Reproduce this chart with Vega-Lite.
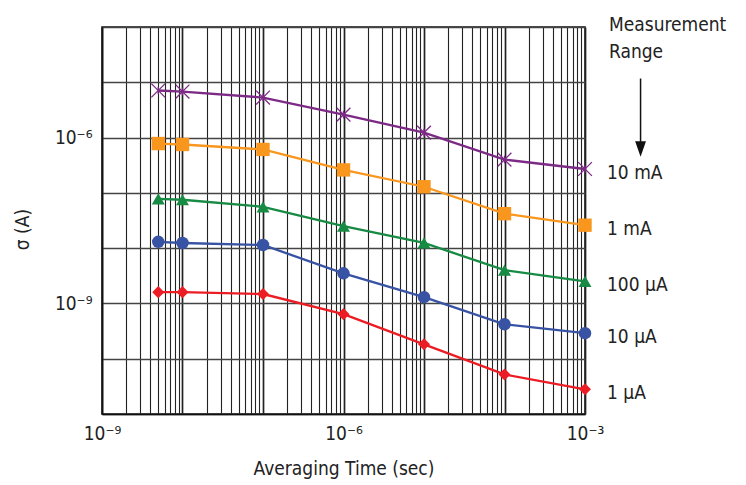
{
  "$schema": "https://vega.github.io/schema/vega-lite/v6.json",
  "width": 483,
  "height": 387,
  "autosize": {"type": "none"},
  "padding": {"left": 102, "top": 27, "right": 161, "bottom": 71},
  "background": "white",
  "title": {
    "text": ["Measurement", "Range"],
    "orient": "top",
    "anchor": "end",
    "frame": "group",
    "align": "left",
    "baseline": "middle",
    "dx": 24,
    "dy": 65,
    "offset": 12,
    "fontSize": 19,
    "fontWeight": "normal",
    "lineHeight": 27,
    "color": "#222"
  },
  "config": {
    "font": "Liberation Sans Narrow, DejaVu Sans Condensed, Liberation Sans",
    "view": {"stroke": "#111", "strokeWidth": 1.5},
    "axis": {
      "labelFontSize": 19,
      "titleFontSize": 19,
      "titleFontWeight": "normal",
      "labelColor": "#222",
      "titleColor": "#222",
      "labelOverlap": false,
      "labelBound": false,
      "labelFlush": false,
      "tickSize": 0,
      "domainColor": "#111",
      "domainWidth": 1.5
    }
  },
  "datasets": {
    "series": [
      {"range": "10 mA", "t": 5e-9, "sigma": 7.1e-6},
      {"range": "10 mA", "t": 1e-8, "sigma": 6.8e-6},
      {"range": "10 mA", "t": 1e-7, "sigma": 5.3e-6},
      {"range": "10 mA", "t": 1e-6, "sigma": 2.6e-6},
      {"range": "10 mA", "t": 1e-5, "sigma": 1.23e-6},
      {"range": "10 mA", "t": 1e-4, "sigma": 4.0e-7},
      {"range": "10 mA", "t": 1e-3, "sigma": 2.7e-7},
      {"range": "1 mA", "t": 5e-9, "sigma": 7.8e-7},
      {"range": "1 mA", "t": 1e-8, "sigma": 7.5e-7},
      {"range": "1 mA", "t": 1e-7, "sigma": 6.1e-7},
      {"range": "1 mA", "t": 1e-6, "sigma": 2.6e-7},
      {"range": "1 mA", "t": 1e-5, "sigma": 1.29e-7},
      {"range": "1 mA", "t": 1e-4, "sigma": 4.2e-8},
      {"range": "1 mA", "t": 1e-3, "sigma": 2.6e-8},
      {"range": "100 µA", "t": 5e-9, "sigma": 7.8e-8},
      {"range": "100 µA", "t": 1e-8, "sigma": 7.5e-8},
      {"range": "100 µA", "t": 1e-7, "sigma": 5.6e-8},
      {"range": "100 µA", "t": 1e-6, "sigma": 2.5e-8},
      {"range": "100 µA", "t": 1e-5, "sigma": 1.24e-8},
      {"range": "100 µA", "t": 1e-4, "sigma": 4.0e-9},
      {"range": "100 µA", "t": 1e-3, "sigma": 2.5e-9},
      {"range": "10 µA", "t": 5e-9, "sigma": 1.30e-8},
      {"range": "10 µA", "t": 1e-8, "sigma": 1.24e-8},
      {"range": "10 µA", "t": 1e-7, "sigma": 1.14e-8},
      {"range": "10 µA", "t": 1e-6, "sigma": 3.5e-9},
      {"range": "10 µA", "t": 1e-5, "sigma": 1.3e-9},
      {"range": "10 µA", "t": 1e-4, "sigma": 4.2e-10},
      {"range": "10 µA", "t": 1e-3, "sigma": 2.9e-10},
      {"range": "1 µA", "t": 5e-9, "sigma": 1.6e-9},
      {"range": "1 µA", "t": 1e-8, "sigma": 1.6e-9},
      {"range": "1 µA", "t": 1e-7, "sigma": 1.48e-9},
      {"range": "1 µA", "t": 1e-6, "sigma": 6.4e-10},
      {"range": "1 µA", "t": 1e-5, "sigma": 1.82e-10},
      {"range": "1 µA", "t": 1e-4, "sigma": 5.2e-11},
      {"range": "1 µA", "t": 1e-3, "sigma": 2.8e-11}
    ],
    "arrow": [
      {"t": 4.9e-3, "from": 1.17e-5, "to": 8.0e-7, "head": 6.2e-7}
    ]
  },
  "encoding": {
    "x": {
      "field": "t",
      "type": "quantitative",
      "scale": {"type": "log", "domain": [1e-9, 1e-3], "nice": false},
      "axis": {
        "title": "Averaging Time (sec)",
        "titlePadding": 16,
        "labelPadding": 10,
        "grid": true,
        "gridColor": "#222",
        "gridWidth": {"condition": {"test": "abs(log(datum.value)/LN10 - round(log(datum.value)/LN10)) < 0.01", "value": 1.7}, "value": 1.1},
        "values": [1e-9, 2e-9, 3e-9, 4e-9, 5e-9, 6e-9, 7e-9, 8e-9, 9e-9,
                   1e-8, 2e-8, 3e-8, 4e-8, 5e-8, 6e-8, 7e-8, 8e-8, 9e-8,
                   1e-7, 2e-7, 3e-7, 4e-7, 5e-7, 6e-7, 7e-7, 8e-7, 9e-7,
                   1e-6, 2e-6, 3e-6, 4e-6, 5e-6, 6e-6, 7e-6, 8e-6, 9e-6,
                   1e-5, 2e-5, 3e-5, 4e-5, 5e-5, 6e-5, 7e-5, 8e-5, 9e-5,
                   1e-4, 2e-4, 3e-4, 4e-4, 5e-4, 6e-4, 7e-4, 8e-4, 9e-4, 1e-3],
        "labelExpr": "abs(datum.value/1e-9-1)<0.01 ? '10⁻⁹' : abs(datum.value/1e-6-1)<0.01 ? '10⁻⁶' : abs(datum.value/1e-3-1)<0.01 ? '10⁻³' : ''"
      }
    },
    "y": {
      "field": "sigma",
      "type": "quantitative",
      "scale": {"type": "log", "domain": [1e-11, 1e-4], "nice": false},
      "axis": {
        "title": "σ (A)",
        "titlePadding": 22,
        "titleY": 202,
        "labelPadding": 10,
        "grid": true,
        "gridColor": "#444",
        "gridWidth": 1.5,
        "values": [1e-11, 1e-10, 1e-9, 1e-8, 1e-7, 1e-6, 1e-5, 1e-4],
        "labelExpr": "abs(datum.value/1e-9-1)<0.01 ? '10⁻⁹' : abs(datum.value/1e-6-1)<0.01 ? '10⁻⁶' : ''"
      }
    }
  },
  "layer": [
    {
      "data": {"name": "series"},
      "mark": {"type": "line", "strokeWidth": 2.3},
      "encoding": {
        "color": {
          "field": "range",
          "type": "nominal",
          "scale": {"domain": ["10 mA", "1 mA", "100 µA", "10 µA", "1 µA"], "range": ["#7d2a86", "#f8961e", "#178a43", "#3853a4", "#ec1c24"]},
          "legend": null
        },
        "detail": {"field": "range"}
      }
    },
    {
      "data": {"name": "series"},
      "transform": [{"filter": "datum.range !== '10 mA'"}],
      "mark": {"type": "point", "filled": true, "opacity": 1},
      "encoding": {
        "color": {
          "field": "range",
          "type": "nominal",
          "scale": {"domain": ["10 mA", "1 mA", "100 µA", "10 µA", "1 µA"], "range": ["#7d2a86", "#f8961e", "#178a43", "#3853a4", "#ec1c24"]},
          "legend": null
        },
        "shape": {
          "field": "range",
          "type": "nominal",
          "scale": {"domain": ["10 mA", "1 mA", "100 µA", "10 µA", "1 µA"], "range": ["cross", "square", "triangle-up", "circle", "diamond"]},
          "legend": null
        },
        "size": {
          "field": "range",
          "type": "nominal",
          "scale": {"domain": ["10 mA", "1 mA", "100 µA", "10 µA", "1 µA"], "range": [190, 145, 175, 135, 180]},
          "legend": null
        }
      }
    },
    {
      "data": {"name": "series"},
      "transform": [{"filter": "datum.range === '10 mA'"}],
      "mark": {"type": "point", "filled": false, "opacity": 1, "size": 190, "shape": "M-1,-1L1,1M-1,1L1,-1M0,-0.55L0,0.55", "stroke": "#7d2a86", "strokeWidth": 1.3}
    },
    {
      "data": {"name": "series"},
      "transform": [{"filter": "datum.t > 5e-4"}],
      "mark": {"type": "text", "align": "left", "baseline": "middle", "dx": 22, "dy": 4, "fontSize": 19, "color": "#222"},
      "encoding": {"text": {"field": "range"}}
    },
    {
      "data": {"name": "arrow"},
      "mark": {"type": "rule", "color": "#111", "strokeWidth": 1.5},
      "encoding": {
        "y": {"field": "from", "type": "quantitative"},
        "y2": {"field": "to"}
      }
    },
    {
      "data": {"name": "arrow"},
      "mark": {"type": "point", "filled": true, "opacity": 1, "color": "#111", "size": 240, "shape": "M-0.7,-1L0.7,-1L0,1Z"},
      "encoding": {
        "y": {"field": "head", "type": "quantitative"}
      }
    }
  ]
}
